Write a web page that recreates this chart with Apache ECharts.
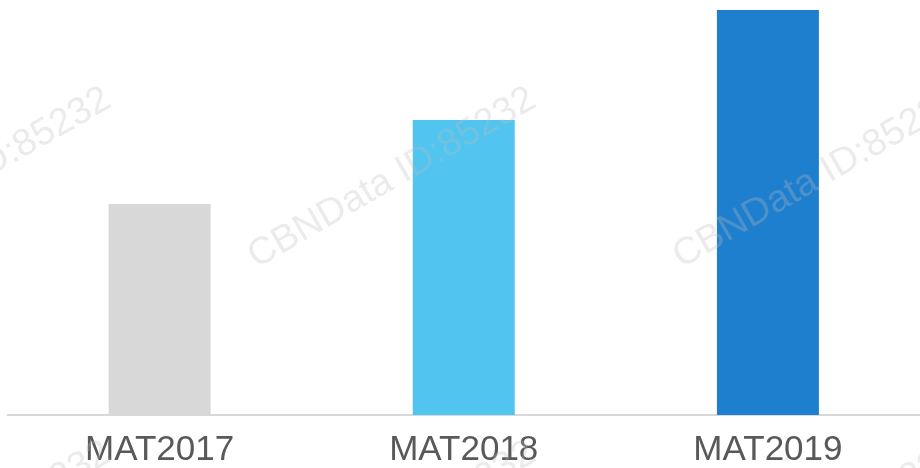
<!DOCTYPE html>
<html>
<head>
<meta charset="utf-8">
<script src="https://cdn.jsdelivr.net/npm/echarts@6/dist/echarts.min.js"></script>
<style>html,body{margin:0;padding:0;background:#fff;}#c{width:920px;height:468px;}</style>
</head>
<body>
<div id="c"></div>
<script>
var categories = ['MAT2017', 'MAT2018', 'MAT2019'];
var values = [211, 295, 405];
var barColors = ['#d8d8d8', '#51c4ef', '#1f7fcf'];

var wmText = 'CBNData ID:85232';
var wmCenters = [[-33,178],[392,178],[817,178],[-33,532],[392,532],[817,532]];

var chart = echarts.init(document.getElementById('c'), null, {renderer:'canvas'});
chart.setOption({
  animation: false,
  backgroundColor: '#ffffff',
  grid: {left: 7.5, top: 10, width: 915, bottom: 53, containLabel: false},
  xAxis: {
    type: 'category',
    data: categories,
    axisLine: {show: true, lineStyle: {color: '#d9d9d9', width: 2}},
    axisTick: {show: false},
    axisLabel: {color: '#595959', fontSize: 35, fontFamily: 'Liberation Sans, Arial, sans-serif', margin: 18}
  },
  yAxis: {
    type: 'value', min: 0, max: 405,
    show: false,
    splitLine: {show: false}
  },
  series: [{
    type: 'bar',
    barWidth: 102,
    data: values.map(function(v, i){ return {value: v, itemStyle: {color: barColors[i]}}; })
  }],
  graphic: wmCenters.map(function(c){
    return {
      type: 'text', x: c[0], y: c[1], rotation: Math.PI/6, z: 100, silent: true,
      style: {text: wmText, fill: 'rgba(190,190,190,0.3)', font: '38px "Liberation Sans", Arial, sans-serif', textAlign: 'center', textVerticalAlign: 'middle'}
    };
  })
});
</script>
</body>
</html>
